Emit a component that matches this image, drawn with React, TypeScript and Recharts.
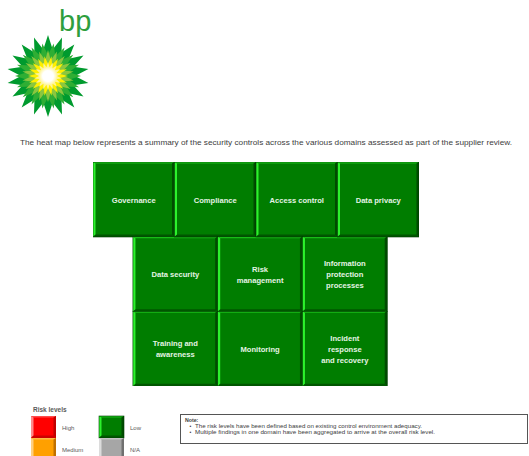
import React from "react";
import { Bar, BarChart, XAxis, YAxis } from "recharts";

// heat map rows, top to bottom
const rows = ["Row 1", "Row 2", "Row 3"];
// start of the first tile in each row, in tile units
const rowOffsets = [0, 0.49, 0.49];
const tileLabels = [
  ["Governance", "Compliance", "Access control", "Data privacy"],
  ["Data security", "Risk\nmanagement", "Information\nprotection\nprocesses"],
  ["Training and\nawareness", "Monitoring", "Incident\nresponse\nand recovery"],
];
const tileSpans = [
  [1, 1, 1, 1],
  [1.04, 1.04, 1.04],
  [1.04, 1.04, 1.04],
];
const riskLevels = [
  ["Low", "Low", "Low", "Low"],
  ["Low", "Low", "Low"],
  ["Low", "Low", "Low"],
];

const levelNames = ["High", "Low", "Medium", "N/A"];
const levelColors: Record<string, string[]> = {
  // base, light edge, dark edge
  High: ["#ff0000", "#ff8a8a", "#c00000"],
  Low: ["#007d00", "#2cf22c", "#004c00"],
  Medium: ["#ffa000", "#ffd080", "#c07000"],
  "N/A": ["#a6a6a6", "#dcdcdc", "#707070"],
};

const note = [
  "The risk levels have been defined based on existing control environment adequacy.",
  "Multiple findings in one domain have been aggregated to arrive at the overall risk level.",
];

const COLS = 4;
const data = rows.map((row, r) => {
  const d: any = { row, offset: rowOffsets[r] };
  for (let c = 0; c < COLS; c++) {
    if (tileSpans[r][c] !== undefined) {
      d["t" + c] = tileSpans[r][c];
      d["l" + c] = tileLabels[r][c];
      d["k" + c] = riskLevels[r][c];
    }
  }
  return d;
});

const Bevel = ({ x, y, w, h, level }: any) => {
  const [base, light, dark] = levelColors[level];
  const b = 2.5;
  return (
    <g>
      <rect x={x} y={y} width={w} height={h} fill={base} />
      <polygon points={`${x},${y} ${x + w},${y} ${x + w - b},${y + 1.5} ${x + b},${y + 1.5}`} fill={light} opacity={0.55} />
      <polygon points={`${x},${y} ${x + b},${y + 1.5} ${x + b},${y + h - b} ${x},${y + h}`} fill={light} />
      <polygon points={`${x + w},${y} ${x + w},${y + h} ${x + w - b},${y + h - b} ${x + w - b},${y + 1.5}`} fill={dark} />
      <polygon points={`${x},${y + h} ${x + b},${y + h - b} ${x + w - b},${y + h - b} ${x + w},${y + h}`} fill={dark} opacity={0.8} />
      <rect x={x} y={y} width={w} height={h} fill="none" stroke="#003a00" strokeWidth={0.6} opacity={level === "Low" ? 1 : 0} />
    </g>
  );
};

const Tile = (props: any) => {
  const { x, y, width, height, payload, col } = props;
  const label: string | undefined = payload && payload["l" + col];
  if (!label || !width || width <= 0) return <g />;
  const lines = label.split("\n");
  const cx = x + width / 2;
  const cy = y + height / 2;
  const lh = 10.8;
  return (
    <g>
      <Bevel x={x} y={y} w={width} h={height} level={payload["k" + col]} />
      <text
        x={cx}
        y={cy - ((lines.length - 1) * lh) / 2 + 3}
        textAnchor="middle"
        fontFamily="'Liberation Sans', Arial, sans-serif"
        fontWeight="bold"
        fontSize={7.6}
        fill="#e4f4e4"
      >
        {lines.map((ln, i) => (
          <tspan key={i} x={cx} dy={i === 0 ? 0 : lh}>
            {ln}
          </tspan>
        ))}
      </text>
    </g>
  );
};

const star = (cx: number, cy: number, n: number, ro: number, ri: number, rot: number) => {
  const pts: string[] = [];
  for (let i = 0; i < n * 2; i++) {
    const r = i % 2 === 0 ? ro : ri;
    const a = ((rot + (i * 180) / n) * Math.PI) / 180;
    pts.push(`${(cx + r * Math.sin(a)).toFixed(2)},${(cy - r * Math.cos(a)).toFixed(2)}`);
  }
  return pts.join(" ");
};

const Logo = () => (
  <g>
    <text x={59} y={31} fontFamily="'Liberation Sans', Arial, sans-serif" fontSize={29} fill="#2e9e3e">
      bp
    </text>
    <defs>
      <radialGradient id="core">
        <stop offset="0%" stopColor="#ffffff" />
        <stop offset="60%" stopColor="#ffffff" />
        <stop offset="100%" stopColor="#fff6a0" />
      </radialGradient>
    </defs>
    <polygon points={star(48, 76, 18, 41, 27, 0)} fill="#009a2e" />
    <polygon points={star(48, 76, 18, 33, 21, 10)} fill="#2fae34" />
    <polygon points={star(48, 76, 18, 26, 16, 0)} fill="#8cc63f" />
    <polygon points={star(48, 76, 18, 20, 12, 10)} fill="#fff000" />
    <polygon points={star(48, 76, 18, 14, 9, 0)} fill="#fff59a" />
    <circle cx={48} cy={76} r={9} fill="url(#core)" />
  </g>
);

const font = "'Liberation Sans', Arial, sans-serif";

export default function App() {
  return (
    <div style={{ position: "absolute", left: 0, top: 0, width: 529, height: 456, background: "#fff", overflow: "hidden" }}>
      <svg width={529} height={456} style={{ position: "absolute", left: 0, top: 0 }}>
        <Logo />
        <text x={20} y={144.5} fontFamily={font} fontSize={8} fill="#404040" textLength={492} lengthAdjust="spacingAndGlyphs">
          The heat map below represents a summary of the security controls across the various domains assessed as part of the supplier review.
        </text>

        {/* legend */}
        <text x={33} y={411.5} fontFamily={font} fontSize={6.5} fontWeight="bold" fill="#595959">
          Risk levels
        </text>
        {levelNames.map((name, i) => {
          const lx = i % 2 === 0 ? 31 : 99;
          const ly = i < 2 ? 416 : 438;
          return (
            <g key={name}>
              <Bevel x={lx} y={ly} w={25} h={22} level={name} />
              <text x={lx + 31} y={ly + 14} fontFamily={font} fontSize={6} fill="#595959">
                {name}
              </text>
            </g>
          );
        })}

        {/* note box */}
        <rect x={180.5} y={414.5} width={347} height={29} fill="#fff" stroke="#555" strokeWidth={1} />
        <text x={185} y={421.5} fontFamily={font} fontSize={5.2} fontWeight="bold" fill="#404040">
          Note:
        </text>
        {note.map((t, i) => (
          <g key={i}>
            <text x={189.5} y={427.5 + i * 6} fontFamily={font} fontSize={5.2} fill="#404040">
              •
            </text>
            <text x={195} y={427.5 + i * 6} fontFamily={font} fontSize={5.2} fill="#404040" textLength={i === 0 ? 227 : 240} lengthAdjust="spacingAndGlyphs">
              {t}
            </text>
          </g>
        ))}
      </svg>

      <div style={{ position: "absolute", left: 93, top: 162 }}>
        <BarChart
          width={326}
          height={224}
          data={data}
          layout="vertical"
          margin={{ top: 0, right: 0, bottom: 0, left: 0 }}
          barCategoryGap={0}
          barGap={0}
        >
          <XAxis type="number" domain={[0, 4]} hide allowDataOverflow />
          <YAxis type="category" dataKey="row" hide />
          <Bar dataKey="offset" stackId="a" fill="transparent" isAnimationActive={false} shape={() => <g />} />
          {[0, 1, 2, 3].map((c) => (
            <Bar
              key={c}
              dataKey={"t" + c}
              stackId="a"
              isAnimationActive={false}
              shape={(p: any) => <Tile {...p} col={c} />}
            />
          ))}
        </BarChart>
      </div>
    </div>
  );
}
